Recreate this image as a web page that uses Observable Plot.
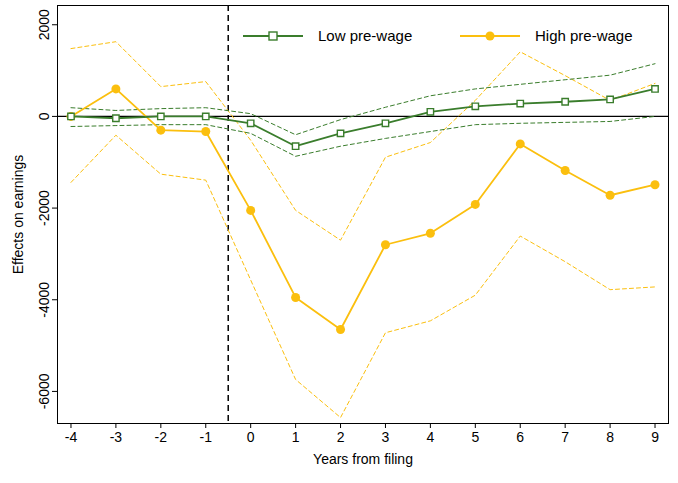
<!DOCTYPE html>
<html><head><meta charset="utf-8">
<script src="https://cdn.jsdelivr.net/npm/d3@7"></script>
<script src="https://cdn.jsdelivr.net/npm/@observablehq/plot@0.6"></script>
<style>
body{margin:0;background:#fff;font-family:"Liberation Sans",Arial,sans-serif}
#wrap{position:relative;width:678px;height:483px}
#legend{position:absolute;left:0;top:0}
</style></head>
<body><div id="wrap"><div id="chart"></div><svg id="legend" width="678" height="70"></svg></div>
<script>
const years = [-4,-3,-2,-1,0,1,2,3,4,5,6,7,8,9];
const lowEst = [0,-40,0,0,-150,-650,-370,-150,100,220,280,320,370,600];
const lowHi  = [190,130,170,190,60,-400,-70,200,450,600,700,800,900,1150];
const lowLo  = [-220,-200,-180,-180,-370,-870,-650,-480,-330,-180,-150,-130,-110,0];
const highEst = [0,600,-300,-330,-2050,-3950,-4650,-2800,-2550,-1920,-600,-1180,-1720,-1490];
const highHi  = [1480,1630,650,760,-520,-2050,-2700,-890,-570,350,1410,890,350,720];
const highLo  = [-1440,-410,-1260,-1390,-3570,-5740,-6570,-4720,-4460,-3900,-2610,-3170,-3780,-3720];

const rows = years.map((x,i)=>({x,lowEst:lowEst[i],lowHi:lowHi[i],lowLo:lowLo[i],highEst:highEst[i],highHi:highHi[i],highLo:highLo[i]}));
const green = "#3a7d2c", orange = "#fbbf0e";

const chart = Plot.plot({
  width: 678, height: 483,
  marginLeft: 57, marginRight: 10, marginTop: 5, marginBottom: 60,
  style: {fontSize: "14px", fontFamily: "Liberation Sans, Arial, sans-serif", color: "#000"},
  x: {domain: [-4.3, 9.3], ticks: years, tickFormat: d=>String(d), label: "Years from filing", labelArrow: "none", labelAnchor: "center", labelOffset: 40, tickSize: 5},
  y: {domain: [-6700, 2420], ticks: [-6000,-4000,-2000,0,2000], tickFormat: d=>String(d), label: "Effects on earnings", labelArrow: "none", labelAnchor: "center", labelOffset: 44, tickRotate: -90, tickSize: 5},
  marks: [
    Plot.frame({stroke: "#000"}),
    Plot.ruleY([0], {stroke: "#000", strokeWidth: 1.3}),
    Plot.ruleX([-0.5], {stroke: "#000", strokeWidth: 1.5, strokeDasharray: "6,4"}),
    Plot.line(rows, {x: "x", y: "highHi", stroke: orange, strokeWidth: 1, strokeDasharray: "4,3"}),
    Plot.line(rows, {x: "x", y: "highLo", stroke: orange, strokeWidth: 1, strokeDasharray: "4,3"}),
    Plot.line(rows, {x: "x", y: "lowHi", stroke: green, strokeWidth: 1, strokeDasharray: "4,3"}),
    Plot.line(rows, {x: "x", y: "lowLo", stroke: green, strokeWidth: 1, strokeDasharray: "4,3"}),
    Plot.line(rows, {x: "x", y: "highEst", stroke: orange, strokeWidth: 1.8}),
    Plot.dot(rows, {x: "x", y: "highEst", fill: orange, r: 4.5}),
    Plot.line(rows, {x: "x", y: "lowEst", stroke: green, strokeWidth: 1.8}),
    Plot.dot(rows, {x: "x", y: "lowEst", symbol: "square", stroke: green, fill: "#fff", r: 3.6, strokeWidth: 1.4})
  ]
});
document.getElementById("chart").append(chart);

const lg = d3.select("#legend");
[{x:243,label:"Low pre-wage",c:green,sq:true},{x:460,label:"High pre-wage",c:orange,sq:false}].forEach(d=>{
  lg.append("line").attr("x1",d.x).attr("x2",d.x+60).attr("y1",36).attr("y2",36).attr("stroke",d.c).attr("stroke-width",1.8);
  if(d.sq) lg.append("rect").attr("x",d.x+26).attr("y",32).attr("width",8).attr("height",8).attr("fill","#fff").attr("stroke",d.c).attr("stroke-width",1.4);
  else lg.append("circle").attr("cx",d.x+30).attr("cy",36).attr("r",4.5).attr("fill",d.c);
  lg.append("text").attr("x",d.x+75).attr("y",41).attr("font-size",15).attr("font-family","Liberation Sans, Arial, sans-serif").text(d.label);
});
</script></body></html>
